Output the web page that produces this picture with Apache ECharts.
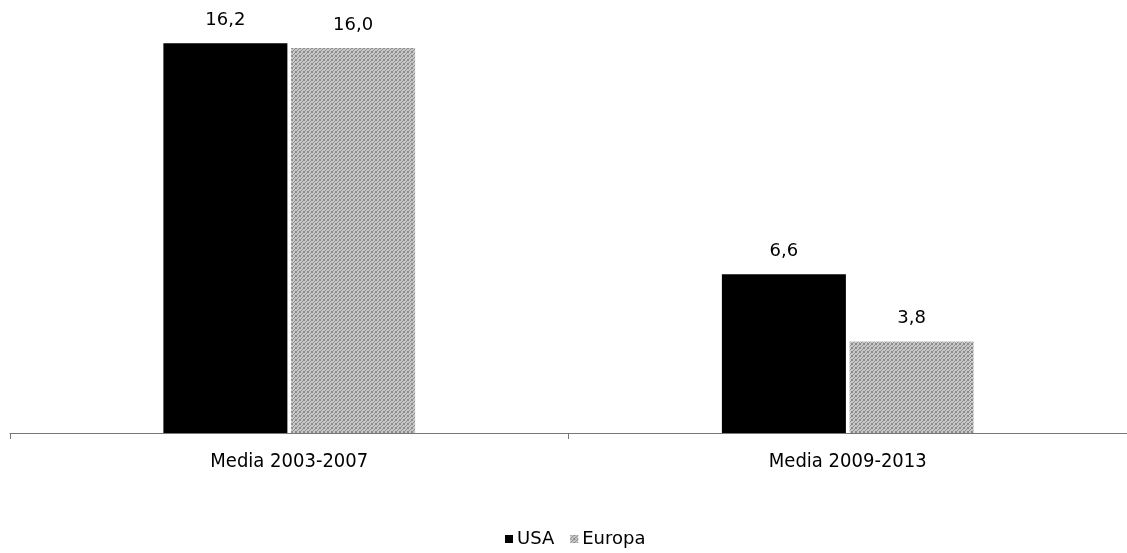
<!DOCTYPE html>
<html>
<head>
<meta charset="utf-8">
<style>
  html, body { margin: 0; padding: 0; background: #fff; }
  #chart { width: 1127px; height: 553px; }
</style>
<script src="https://cdn.jsdelivr.net/npm/echarts@6/dist/echarts.min.js"></script>
</head>
<body>
<div id="chart"></div>
<script>
// Average growth by period
const categories = ['Media 2003-2007', 'Media 2009-2013'];
const usaValues = [16.2, 6.6];
const europaValues = [16.0, 3.8];
const seriesNames = ['USA', 'Europa'];

// Grey halftone fill for the Europa bars
function halftone() {
  const c = document.createElement('canvas');
  c.width = 4; c.height = 4;
  const ctx = c.getContext('2d');
  ctx.fillStyle = '#c8c8c8';
  ctx.fillRect(0, 0, 4, 4);
  ctx.fillStyle = '#8a8a8a';
  [[0,0],[2,1],[1,2],[3,3],[3,0],[0,3]].forEach(([x, y]) => ctx.fillRect(x, y, 1, 1));
  return c;
}
const europaFill = { image: halftone(), repeat: 'repeat' };

const fmt = p => p.value.toFixed(1).replace('.', ',');
const labelStyle = {
  show: true, position: 'top', distance: 14,
  fontFamily: 'DejaVu Sans', fontSize: 18, color: '#000', formatter: fmt
};

const chart = echarts.init(document.getElementById('chart'), null, { renderer: 'canvas' });
chart.setOption({
  animation: false,
  grid: { left: 10, right: -3, top: 0, bottom: 120 },
  legend: {
    data: seriesNames,
    bottom: 0, left: 500,
    itemWidth: 8, itemHeight: 8, itemGap: 16,
    icon: 'rect',
    textStyle: { fontFamily: 'DejaVu Sans', fontSize: 18, color: '#000', padding: [0, 0, 0, -1] }
  },
  xAxis: {
    type: 'category',
    data: categories,
    axisLine: { lineStyle: { color: '#777', width: 1 } },
    axisTick: { show: true, length: 6, lineStyle: { color: '#777' } },
    axisLabel: { fontFamily: "'DejaVu Sans Condensed', 'DejaVu Sans'", fontSize: 20, color: '#000', margin: 19 }
  },
  yAxis: {
    type: 'value', min: 0, max: 18, show: false,
    splitLine: { show: false }
  },
  series: [
    {
      name: 'USA', type: 'bar', data: usaValues,
      barWidth: 124, barGap: '3%',
      itemStyle: { color: '#000' },
      label: labelStyle
    },
    {
      name: 'Europa', type: 'bar', data: europaValues,
      barWidth: 124,
      itemStyle: { color: europaFill },
      label: labelStyle
    }
  ]
});
</script>
</body>
</html>
